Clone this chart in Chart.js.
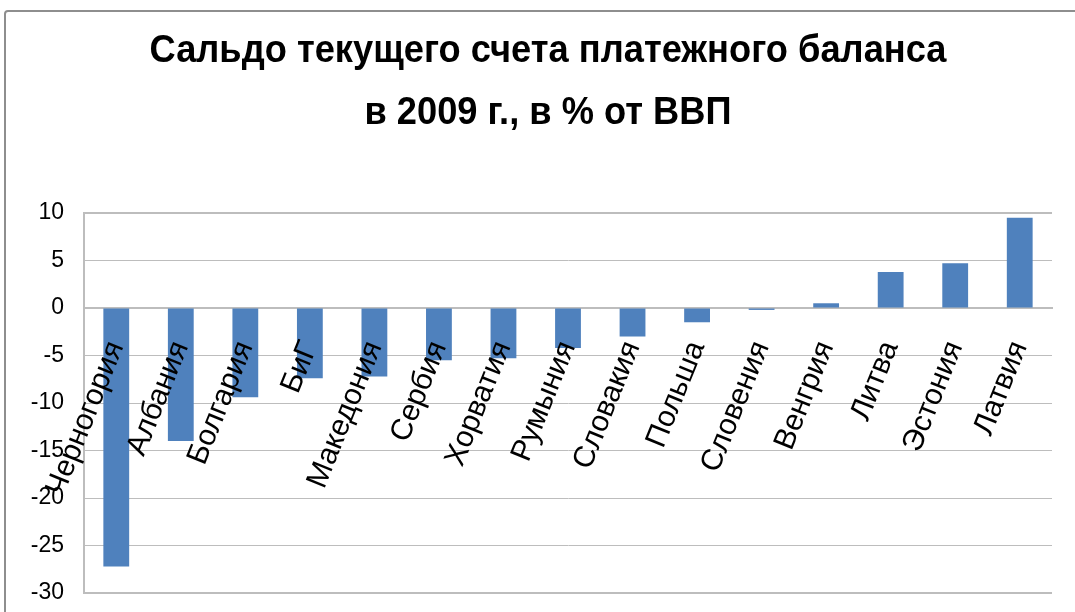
<!DOCTYPE html>
<html>
<head>
<meta charset="utf-8">
<script src="https://cdn.jsdelivr.net/npm/chart.js@4/dist/chart.umd.min.js"></script>
<style>
  html, body { margin: 0; padding: 0; background: #fff; overflow: hidden; }
  #wrap { position: relative; width: 1075px; height: 612px; }
  #frame { position: absolute; left: 4px; top: 10px; width: 1200px; height: 800px;
           border: 2px solid #8e8e8e; border-radius: 4px; box-sizing: border-box; }
  canvas { position: absolute; left: 0; top: 0; }
</style>
</head>
<body>
<div id="wrap">
  <div id="frame"></div>
  <canvas id="chart" width="1075" height="612"></canvas>
</div>
<script>
// countries, sorted by current account balance
const countries = ['Черногория', 'Албания', 'Болгария', 'БиГ', 'Македония', 'Сербия', 'Хорватия',
    'Румыния', 'Словакия', 'Польша', 'Словения', 'Венгрия', 'Литва', 'Эстония', 'Латвия'];
// current account balance 2009, % of GDP
const balance = [-27.2, -14.0, -9.4, -7.4, -7.2, -5.5, -5.3, -4.2, -3.0, -1.5, -0.2, 0.5, 3.8, 4.7, 9.5];
const titleLines = ['Сальдо текущего счета платежного баланса', 'в 2009 г., в % от ВВП'];
const yMin = -30;
const yMax = 10;
const yStep = 5;

const gridColor = '#bdbdbd';

// squeeze the title a bit, the original uses a narrow bold face
const narrowTitle = {
    id: 'narrowTitle',
    beforeDraw(chart) {
        const tb = chart.titleBlock;
        if (!tb || tb._narrow) return;
        const orig = tb.draw.bind(tb);
        tb.draw = (area) => {
            const ctx = chart.ctx;
            const cx = (tb.left + tb.right) / 2;
            ctx.save();
            ctx.translate(548, 0);
            ctx.scale(0.93, 1);
            ctx.translate(-cx, 0);
            orig(area);
            ctx.restore();
        };
        tb._narrow = true;
    }
};

new Chart(document.getElementById('chart'), {
    type: 'bar',
    data: {
        labels: countries,
        datasets: [{
            label: 'Сальдо',
            data: balance,
            backgroundColor: '#4f81bd',
            barPercentage: 0.4,
            categoryPercentage: 1
        }]
    },
    plugins: [narrowTitle],
    options: {
        responsive: false,
        animation: false,
        layout: {
            padding: { top: 20, right: 23, bottom: 19, left: 0 }
        },
        plugins: {
            legend: { display: false },
            tooltip: { enabled: false },
            title: {
                display: true,
                text: titleLines,
                color: '#000',
                font: { family: '"Liberation Sans", Arial', size: 39, weight: 'bold', lineHeight: 1.59 },
                padding: { top: 0, bottom: 69 }
            }
        },
        scales: {
            x: {
                position: { y: 0 },
                // labels sit inside the plot, so they should not eat layout space
                afterFit: (scale) => {
                    scale.paddingTop = 0;
                    scale.paddingBottom = 0;
                    scale.paddingLeft = 0;
                    scale.paddingRight = 0;
                },
                grid: { display: false, drawTicks: false },
                border: { display: true, color: gridColor, width: 2 },
                ticks: {
                    z: 1,
                    color: '#000',
                    autoSkip: false,
                    minRotation: 68,
                    maxRotation: 68,
                    padding: 28,
                    font: { family: '"Liberation Sans", Arial', size: 30 }
                }
            },
            y: {
                min: yMin,
                max: yMax,
                afterFit: (scale) => {
                    scale.width = 84;
                    scale.paddingTop = 0;
                    scale.paddingBottom = 0;
                },
                grid: {
                    color: gridColor,
                    lineWidth: (ctx) => (ctx.tick && (ctx.tick.value === yMax || ctx.tick.value === yMin) ? 2 : 1),
                    drawTicks: false
                },
                border: { display: true, color: gridColor, width: 2 },
                ticks: {
                    stepSize: yStep,
                    color: '#000',
                    padding: 20,
                    font: { family: '"Liberation Sans", Arial', size: 23 }
                }
            }
        }
    }
});
</script>
</body>
</html>
